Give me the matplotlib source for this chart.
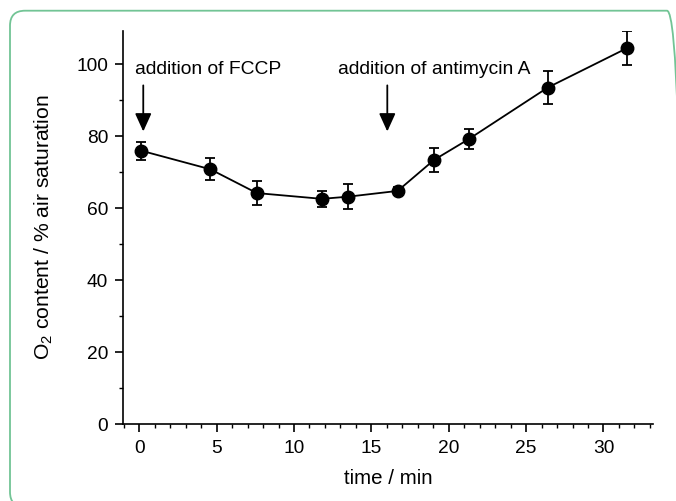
import matplotlib

matplotlib.use("Agg")
import matplotlib.pyplot as plt
from matplotlib.patches import FancyBboxPatch
from matplotlib.ticker import MultipleLocator
from matplotlib.transforms import IdentityTransform

# O2 content after additions of FCCP and antimycin A
time_min = [0.1, 4.6, 7.6, 11.8, 13.5, 16.7, 19.05, 21.3, 26.4, 31.5]
o2_sat = [76.0, 70.8, 64.2, 62.6, 63.2, 64.8, 73.4, 79.2, 93.5, 104.4]
o2_err = [2.5, 3.1, 3.3, 2.2, 3.4, 1.0, 3.4, 2.8, 4.6, 4.7]

events = ["addition of FCCP", "addition of antimycin A"]
event_time = [0.26, 16.03]
event_text_x = [-0.28, 12.86]

plt.rcParams["font.family"] = ["Liberation Sans", "DejaVu Sans"]
plt.rcParams["mathtext.fontset"] = "custom"
plt.rcParams["mathtext.rm"] = "Liberation Sans"
plt.rcParams["mathtext.it"] = "Liberation Sans"

fig = plt.figure(figsize=(6.76, 5.01), dpi=100)
ax = fig.add_axes([123.3 / 676, 1 - 424.3 / 501, (653 - 123.3) / 676, (424.3 - 31) / 501])

ax.errorbar(time_min, o2_sat, yerr=o2_err, color="black", lw=1.3, marker="o",
            ms=9, elinewidth=1.3, capsize=3.4, capthick=1.3)

for label, tx, lx in zip(events, event_time, event_text_x):
    ax.text(lx, 98.4, label, fontsize=13.9, va="center", ha="left")
    ax.annotate("", xy=(tx, 81.3), xytext=(tx, 94.1),
                arrowprops=dict(arrowstyle="-|>,head_length=0.55,head_width=0.25",
                                color="black", lw=1.3, shrinkA=0, shrinkB=0,
                                mutation_scale=20))

ax.set_xlim(-1.03, 33.2)
ax.set_ylim(0, 109.2)
ax.xaxis.set_major_locator(MultipleLocator(5))
ax.xaxis.set_minor_locator(MultipleLocator(1))
ax.yaxis.set_major_locator(MultipleLocator(20))
ax.yaxis.set_minor_locator(MultipleLocator(10))

for side in ("top", "right"):
    ax.spines[side].set_visible(False)
for side in ("left", "bottom"):
    ax.spines[side].set_linewidth(1.2)

ax.tick_params(which="major", direction="out", length=6, width=1.2,
               labelsize=13.8, pad=5)
ax.tick_params(which="minor", direction="out", length=3, width=1.0)

ax.set_xlabel("time / min", fontsize=14.8, labelpad=9)
ax.set_ylabel("O$_2$ content / % air saturation", fontsize=15.2)
ax.yaxis.set_label_coords(-0.128, 0.5)

frame = FancyBboxPatch((10, -6), 672, 496.3, boxstyle="round,pad=0,rounding_size=15",
                       transform=IdentityTransform(), fill=False,
                       edgecolor="#72c495", lw=1.3)
fig.add_artist(frame)

fig.savefig("out.png", dpi=100)
